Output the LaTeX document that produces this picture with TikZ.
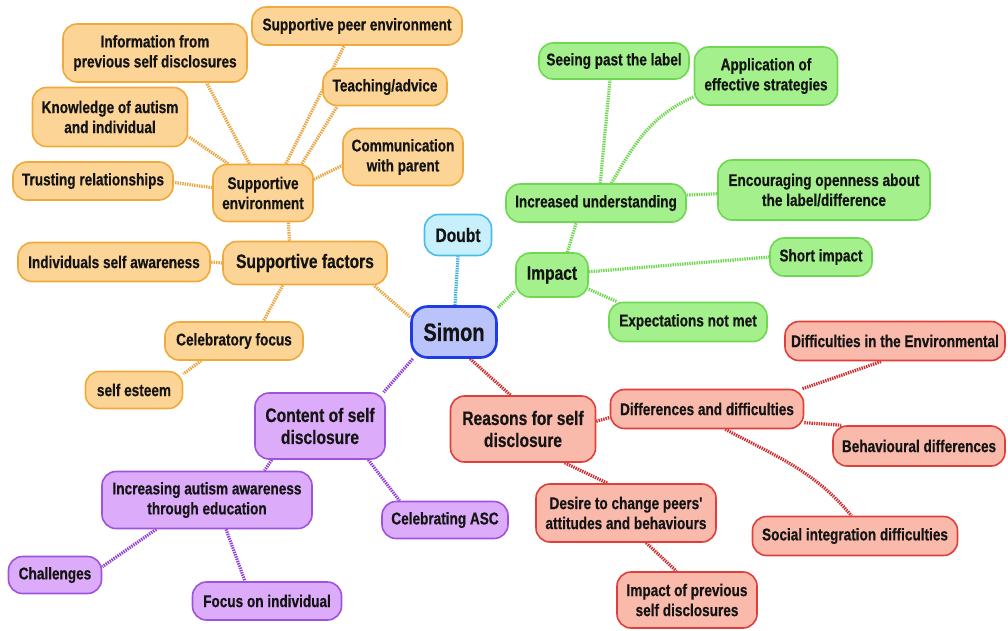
\documentclass[tikz,border=0pt]{standalone}
\usepackage{fontspec}
\setmainfont{Liberation Sans}[Ligatures=TeXOff, FakeStretch=0.8, BoldFeatures={FakeBold=0.5}]
\usetikzlibrary{backgrounds}
\definecolor{txt}{RGB}{20,20,20}
\definecolor{orf}{RGB}{252,212,150}
\definecolor{ord}{RGB}{240,170,60}
\definecolor{orl}{RGB}{234,166,64}
\definecolor{grf}{RGB}{164,240,140}
\definecolor{grd}{RGB}{112,215,82}
\definecolor{grl}{RGB}{112,214,80}
\definecolor{rdf}{RGB}{249,186,172}
\definecolor{rdd}{RGB}{225,62,58}
\definecolor{rdl}{RGB}{205,45,45}
\definecolor{puf}{RGB}{220,172,250}
\definecolor{pud}{RGB}{158,82,222}
\definecolor{pul}{RGB}{145,62,215}
\definecolor{cyf}{RGB}{200,240,252}
\definecolor{cyd}{RGB}{70,190,230}
\definecolor{cyl}{RGB}{55,175,218}
\definecolor{blf}{RGB}{186,196,250}
\definecolor{bld}{RGB}{30,60,230}
\tikzset{
  box/.style={draw, rounded corners=14pt, line width=1.6pt, align=center,
    inner sep=2pt, text=txt, font=\bfseries\fontsize{17}{20}\selectfont},
  big/.style={font=\bfseries\fontsize{19.5}{22}\selectfont},
  sz/.style 2 args={minimum width=#1pt, minimum height=#2pt},
  orb/.style={box, fill=orf, draw=ord},
  grb/.style={box, fill=grf, draw=grd},
  rdb/.style={box, fill=rdf, draw=rdd},
  pub/.style={box, fill=puf, draw=pud},
  cyb/.style={box, fill=cyf, draw=cyd},
  blb/.style={box, fill=blf, draw=bld, line width=2.6pt, rounded corners=16pt},
  ln/.style={line width=3.2pt, dash pattern=on 1.4pt off 1pt},
  oln/.style={ln, draw=orl},
  gln/.style={ln, draw=grl},
  rln/.style={ln, draw=rdl},
  pln/.style={ln, draw=pul},
  cln/.style={ln, draw=cyl},
}
\begin{document}
\begin{tikzpicture}[x=1pt, y=-1pt]
\path[use as bounding box] (0,0) rectangle (1008,630);

% ---------- nodes ----------
% orange
\node[orb, sz={210}{38}] (o1) at (357,26) {Supportive peer environment};
\node[orb, sz={184}{58}] (o2) at (155,53) {Information from\\previous self disclosures};
\node[orb, sz={124}{37}] (o3) at (385,87) {Teaching/advice};
\node[orb, sz={155}{59}] (o4) at (110,117) {Knowledge of autism\\and individual};
\node[orb, sz={120}{57}] (o5) at (403,157) {Communication\\with parent};
\node[orb, sz={160}{38}] (o6) at (93,181) {Trusting relationships};
\node[orb, sz={100}{57}] (se) at (263,193) {Supportive\\environment};
\node[orb, sz={192}{39}] (o7) at (114,262) {Individuals self awareness};
\node[orb, big, sz={164}{43}] (sf) at (305,263) {Supportive factors};
\node[orb, sz={138}{38}] (o8) at (234,341) {Celebratory focus};
\node[orb, sz={97}{37}] (o9) at (134,390) {self esteem};
% cyan / blue
\node[cyb, big, sz={67}{41}] (doubt) at (458,235) {Doubt};
\node[blb, font=\bfseries\fontsize{25}{28}\selectfont, sz={85}{51}] (simon) at (454,332) {Simon};
% green
\node[grb, big, sz={72}{44}] (imp) at (552,275) {Impact};
\node[grb, sz={150}{36}] (g1) at (614,61) {Seeing past the label};
\node[grb, sz={143}{58}] (g2) at (766,76) {Application of\\effective strategies};
\node[grb, sz={180}{38}] (iu) at (596,203) {Increased understanding};
\node[grb, sz={212}{60}] (g3) at (824,190) {Encouraging openness about\\the label/difference};
\node[grb, sz={102}{38}] (g4) at (821,257) {Short impact};
\node[grb, sz={158}{39}] (g5) at (688,322) {Expectations not met};
% red
\node[rdb, big, sz={145}{66}] (rs) at (523,429) {Reasons for self\\disclosure};
\node[rdb, sz={193}{39}] (dd) at (707,409) {Differences and difficulties};
\node[rdb, sz={220}{39}] (r1) at (895,341) {Difficulties in the Environmental};
\node[rdb, sz={172}{40}] (r2) at (919,446) {Behavioural differences};
\node[rdb, sz={180}{58}] (r3) at (626,513) {Desire to change peers'\\attitudes and behaviours};
\node[rdb, sz={205}{39}] (r4) at (855,536) {Social integration difficulties};
\node[rdb, sz={140}{56}] (r5) at (687,600) {Impact of previous\\self disclosures};
% purple
\node[pub, big, sz={130}{66}] (cs) at (320,426) {Content of self\\disclosure};
\node[pub, sz={210}{57}] (p1) at (207,500) {Increasing autism awareness\\through education};
\node[pub, sz={126}{37}] (p2) at (445,520) {Celebrating ASC};
\node[pub, sz={93}{37}] (p3) at (55,575) {Challenges};
\node[pub, sz={149}{38}] (p4) at (267,601) {Focus on individual};

% ---------- connectors ----------
\begin{scope}[on background layer]
\draw[cln] (simon.88) -- (doubt.-90);
\draw[gln] (simon.29) -- (imp.-157);
\draw[oln] (simon.161) -- (sf.-18);
\draw[pln] (simon.-147) -- (cs.28);
\draw[rln] (simon.-59) -- (rs.110);
% green branch
\draw[gln] (imp.56) -- (iu.-135);
\draw[gln] (imp.5) -- (g4.180);
\draw[gln] (imp.-21) -- (g5.164);
\draw[gln] (iu.78) -- (g1.-102);
\draw[gln] (iu.52) to[out=60,in=204] (g2.-164);
\draw[gln] (iu.5) -- (g3.-178);
% orange branch
\draw[oln] (sf.125) -- (se.-49);
\draw[oln] (sf.180) -- (o7.0);
\draw[oln] (sf.-135) -- (o8.34);
\draw[oln] (o8.-149) -- (o9.18);
\draw[oln] (se.174) -- (o6.-1);
\draw[oln] (se.140) -- (o4.-14);
\draw[oln] (se.115) -- (o2.-30);
\draw[oln] (se.52) -- (o1.-123);
\draw[oln] (se.37) -- (o3.-158);
\draw[oln] (se.15) -- (o5.-172);
% purple branch
\draw[pln] (cs.-145) -- (p1.27);
\draw[pln] (cs.-35) -- (p2.157);
\draw[pln] (p1.-150) -- (p3.10);
\draw[pln] (p1.-57) -- (p4.138);
% red branch
\draw[rln] (rs.6) -- (dd.-175);
\draw[rln] (rs.-39) -- (r3.122);
\draw[rln] (r3.-56) -- (r5.110);
\draw[rln] (dd.12) -- (r1.-123);
\draw[rln] (dd.-8) -- (r2.165);
\draw[rln] (dd.-48) to[out=-28,in=130] (r4.100);
\end{scope}
\end{tikzpicture}
\end{document}
